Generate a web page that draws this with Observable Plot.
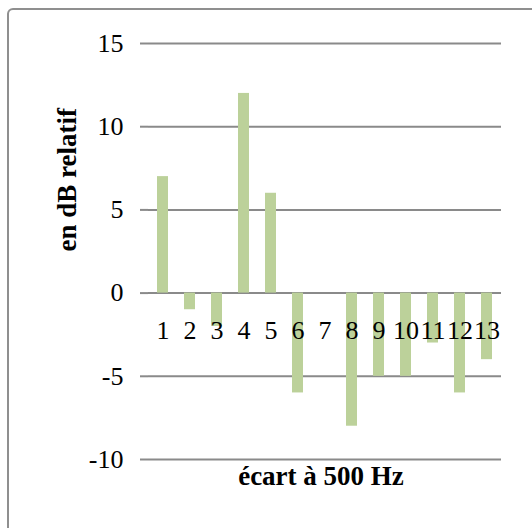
<!DOCTYPE html>
<html>
<head>
<meta charset="utf-8">
<script src="https://cdn.jsdelivr.net/npm/d3@7"></script>
<script src="https://cdn.jsdelivr.net/npm/@observablehq/plot@0.6"></script>
<style>
  html, body { margin: 0; padding: 0; background: #fff; overflow: hidden; }
  #wrap { position: relative; width: 532px; height: 528px; }
  #border { position: absolute; left: 7px; top: 8px; width: 600px; height: 600px;
            border: 2px solid #8f8f8f; border-radius: 6px; box-sizing: border-box; }
  #chart { position: absolute; left: 0; top: 0; }
</style>
</head>
<body>
<div id="wrap"><div id="border"></div><div id="chart"></div></div>
<script>
const categories = ["1","2","3","4","5","6","7","8","9","10","11","12","13"];
const values = [7, -1, -2, 12, 6, -6, 0, -8, -5, -5, -3, -6, -4];
const yTicks = [-10, -5, 0, 5, 10, 15];
const xTitle = "écart à 500 Hz";
const yTitle = "en dB relatif";

const data = categories.map((c, i) => ({cat: c, val: values[i]}));
const serif = "'Liberation Serif', 'Times New Roman', serif";
const grid = "#8a8a8a";

const chart = Plot.plot({
  width: 532,
  height: 528,
  marginLeft: 148,
  marginRight: 31,
  marginTop: 43,
  marginBottom: 69,
  style: {fontFamily: serif, background: "transparent", overflow: "visible"},
  x: {domain: categories, paddingInner: 0.58, paddingOuter: 0.21, axis: null},
  y: {domain: [-10, 15], axis: null},
  marks: [
    Plot.ruleY(yTicks, {stroke: grid, strokeWidth: 2}),
    Plot.axisY({ticks: yTicks, tickSize: 8, tickPadding: 17, stroke: grid, strokeWidth: 2,
                fill: "#000", fontSize: 26, label: null, tickFormat: d => String(d)}),
    Plot.barY(data, {x: "cat", y: "val", fill: "#bcd19a"}),
    Plot.axisY({ticks: [], tickSize: 0, line: true, stroke: grid, strokeWidth: 3, label: null}),
    Plot.text(data, {x: "cat", y: () => 0, text: "cat", dy: 38, fontSize: 26, fill: "#000"}),
    Plot.text([xTitle], {frameAnchor: "bottom", dy: 25, text: d => d, fontSize: 27,
                         fontWeight: "bold", fill: "#000", dx: -4}),
    Plot.text([yTitle], {frameAnchor: "left", dx: -81, rotate: -90, text: d => d, fontSize: 27,
                         fontWeight: "bold", fill: "#000"})
  ]
});
document.getElementById("chart").appendChild(chart);
</script>
</body>
</html>
